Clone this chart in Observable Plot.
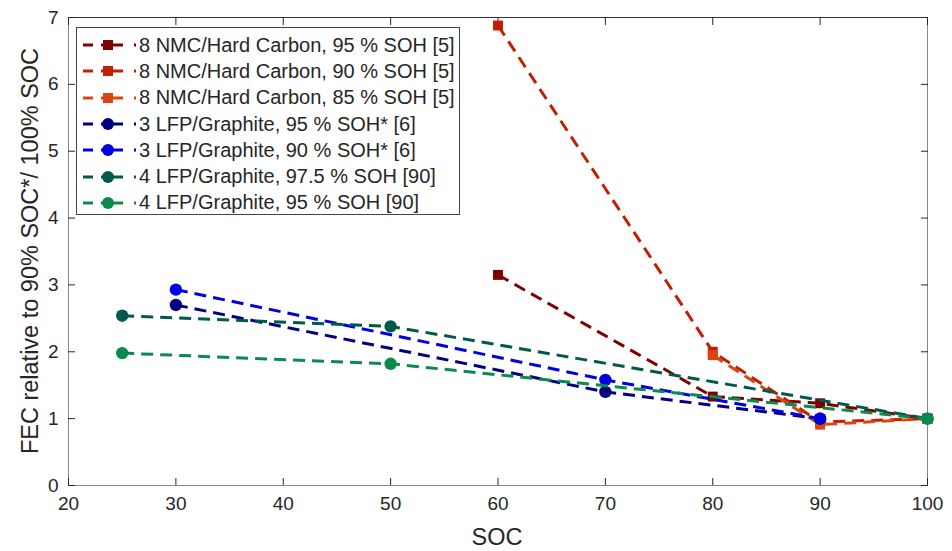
<!DOCTYPE html>
<html>
<head>
<meta charset="utf-8">
<script src="https://cdn.jsdelivr.net/npm/d3@7"></script>
<script src="https://cdn.jsdelivr.net/npm/@observablehq/plot@0.6"></script>
<style>
  html, body { margin: 0; padding: 0; background: #fff; }
  #wrap { position: relative; width: 952px; height: 551px; }
  #legend { position: absolute; left: 76px; top: 27px; width: 384px; height: 188px;
    border: 1px solid #444; background: #fff; box-sizing: border-box; padding-top: 4px;
    font-family: "Liberation Sans", Arial, sans-serif; font-size: 20px; color: #262626; }
  .row { display: flex; align-items: center; height: 26.3px; }
  .row svg { flex: none; margin-left: 6px; margin-right: 2px; }
  #ytitle { position: absolute; left: 30px; top: 251px; transform: translate(-50%, -50%) rotate(-90deg);
    white-space: nowrap; font-family: "Liberation Sans", Arial, sans-serif; font-size: 23.5px; color: #262626; }
  #xtitle { position: absolute; left: 497px; top: 537px; transform: translate(-50%, -50%);
    font-family: "Liberation Sans", Arial, sans-serif; font-size: 23.5px; color: #262626; }
</style>
</head>
<body>
<div id="wrap"></div>
<script>
// ---- data ----
const seriesNames = [
  "8 NMC/Hard Carbon, 95 % SOH [5]",
  "8 NMC/Hard Carbon, 90 % SOH [5]",
  "8 NMC/Hard Carbon, 85 % SOH [5]",
  "3 LFP/Graphite, 95 % SOH* [6]",
  "3 LFP/Graphite, 90 % SOH* [6]",
  "4 LFP/Graphite, 97.5 % SOH [90]",
  "4 LFP/Graphite, 95 % SOH [90]"
];
const seriesColors = ["#800000", "#C21F00", "#DA4510", "#000080", "#0000E0", "#00594A", "#0B8A4D"];
const seriesSymbols = ["square", "square", "square", "circle", "circle", "circle", "circle"];

const nmcSoc = [60, 80, 90, 100];
const nmc95 = [3.15, 1.33, 1.23, 1.00];
const nmc90 = [6.88, 2.00, 0.95, 1.00];
const nmc85Soc = [80, 90, 100];
const nmc85 = [1.95, 0.91, 1.00];
const lfp6Soc = [30, 70, 90];
const lfp6_95 = [2.70, 1.40, 1.00];
const lfp6_90 = [2.93, 1.58, 1.00];
const lfp90Soc = [25, 50, 100];
const lfp90_975 = [2.54, 2.38, 1.00];
const lfp90_95 = [1.98, 1.82, 1.00];

const xTicks = [20, 30, 40, 50, 60, 70, 80, 90, 100];
const yTicks = [0, 1, 2, 3, 4, 5, 6, 7];
const xTitle = "SOC";
const yTitle = "FEC relative to 90% SOC*/ 100% SOC";

// ---- build ----
const seriesX = [nmcSoc, nmcSoc, nmc85Soc, lfp6Soc, lfp6Soc, lfp90Soc, lfp90Soc];
const seriesY = [nmc95, nmc90, nmc85, lfp6_95, lfp6_90, lfp90_975, lfp90_95];
const seriesData = seriesNames.map((name, i) =>
  seriesX[i].map((x, j) => ({series: name, soc: x, fec: seriesY[i][j]})));

const seriesMarks = [];
seriesData.forEach((data, i) => {
  seriesMarks.push(Plot.line(data, {x: "soc", y: "fec", stroke: "series",
    strokeWidth: 3, strokeDasharray: "12,7", strokeLinecap: "butt"}));
  seriesMarks.push(Plot.dot(data, {x: "soc", y: "fec", fill: "series",
    symbol: () => seriesSymbols[i], r: seriesSymbols[i] === "square" ? 5.6 : 6.2, stroke: "none"}));
});

const axisFont = "'Liberation Sans Narrow', 'Liberation Sans', Arial, sans-serif";
const fmt = d3.format("d");
const chart = Plot.plot({
  width: 952, height: 551,
  marginLeft: 68, marginRight: 25, marginTop: 17, marginBottom: 66,
  style: {fontFamily: axisFont, fontSize: "19px", color: "#262626", background: "white", overflow: "visible"},
  x: {domain: [20, 100], label: null},
  y: {domain: [0, 7], label: null},
  color: {domain: seriesNames, range: seriesColors},
  marks: [
    Plot.frame({stroke: "#888"}),
    Plot.ruleY([d3.max(yTicks)], {stroke: "#333"}),
    Plot.axisX(xTicks, {anchor: "bottom", tickSize: -7, tickPadding: 18, tickFormat: fmt, stroke: "#262626", fill: "#262626", label: null}),
    Plot.axisX(xTicks, {anchor: "top", tickSize: -7, tickFormat: () => "", stroke: "#262626", label: null}),
    Plot.axisY(yTicks, {anchor: "left", tickSize: -7, tickPadding: 17, tickFormat: fmt, stroke: "#262626", fill: "#262626", label: null}),
    Plot.axisY(yTicks, {anchor: "right", tickSize: -7, tickFormat: () => "", stroke: "#262626", label: null}),
    ...seriesMarks
  ]
});

const wrap = document.getElementById("wrap");
wrap.appendChild(chart);

// titles
const yt = document.createElement("div"); yt.id = "ytitle"; yt.textContent = yTitle; wrap.appendChild(yt);
const xt = document.createElement("div"); xt.id = "xtitle"; xt.textContent = xTitle; wrap.appendChild(xt);

// legend
const legend = document.createElement("div"); legend.id = "legend";
const ns = "http://www.w3.org/2000/svg";
seriesNames.forEach((name, i) => {
  const row = document.createElement("div"); row.className = "row";
  const svg = document.createElementNS(ns, "svg");
  svg.setAttribute("width", 54); svg.setAttribute("height", 20);
  const c = seriesColors[i];
  const segs = [[0, 10], [18, 40], [51, 53]];
  segs.forEach(([a, b]) => {
    const l = document.createElementNS(ns, "line");
    l.setAttribute("x1", a); l.setAttribute("x2", b); l.setAttribute("y1", 10); l.setAttribute("y2", 10);
    l.setAttribute("stroke", c); l.setAttribute("stroke-width", 3);
    svg.appendChild(l);
  });
  if (seriesSymbols[i] === "square") {
    const r = document.createElementNS(ns, "rect");
    r.setAttribute("x", 20); r.setAttribute("y", 5); r.setAttribute("width", 10); r.setAttribute("height", 10);
    r.setAttribute("fill", c); svg.appendChild(r);
  } else {
    const ci = document.createElementNS(ns, "circle");
    ci.setAttribute("cx", 25); ci.setAttribute("cy", 10); ci.setAttribute("r", 6);
    ci.setAttribute("fill", c); svg.appendChild(ci);
  }
  row.appendChild(svg);
  const span = document.createElement("span"); span.textContent = name;
  row.appendChild(span);
  legend.appendChild(row);
});
wrap.appendChild(legend);
</script>
</body>
</html>
